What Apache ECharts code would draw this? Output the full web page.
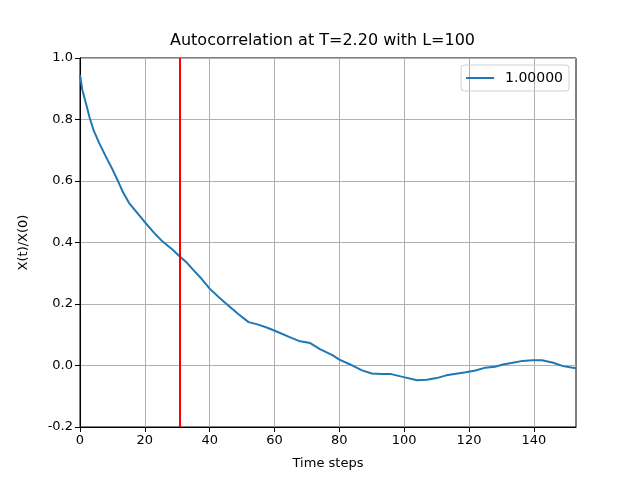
<!DOCTYPE html>
<html>
<head>
    <meta charset="utf-8">
    <title>Autocorrelation</title>
    <script src="https://cdn.jsdelivr.net/npm/echarts@6/dist/echarts.min.js"></script>
    <style>
        html, body { margin: 0; padding: 0; background: #fff; }
        #main { width: 640px; height: 480px; }
    </style>
</head>
<body>
    <div id="main"></div>
    <script>
        // values
        var timeSteps = [0, 0.7, 1.8, 3, 4.3, 5.9, 7.9, 10, 11.5, 13.1, 15.1, 17.2, 19.7, 22.8, 25.5, 28.5, 30.7, 33, 35, 37.5, 40, 43,
            46, 49, 52, 55, 58, 61, 64.5, 67.5, 71, 74, 78, 80, 83, 87, 90, 93, 96, 99.5, 104, 107,
            110, 113, 116, 119, 122, 125, 128, 130.5, 133.5, 136.5, 139.5, 142.5, 146, 149, 153];
        var corrValues = [0.945, 0.897, 0.854, 0.805, 0.762, 0.724, 0.681, 0.638, 0.605, 0.567, 0.529, 0.502, 0.470, 0.432, 0.403, 0.377, 0.355, 0.334, 0.310, 0.282, 0.250, 0.220,
            0.193, 0.166, 0.141, 0.133, 0.122, 0.109, 0.093, 0.080, 0.073, 0.053, 0.033, 0.019, 0.005, -0.016, -0.026, -0.028, -0.028, -0.037, -0.048, -0.046,
            -0.041, -0.032, -0.027, -0.022, -0.016, -0.007, -0.004, 0.003, 0.009, 0.015, 0.017, 0.017, 0.009, -0.002, -0.009];
        var seriesName = '1.00000';
        var redLineX = 30.7;
        var xTicks = [0, 20, 40, 60, 80, 100, 120, 140];

        var points = [];
        for (var i = 0; i < timeSteps.length; i++) {
            points.push([timeSteps[i], corrValues[i]]);
        }

        var font = 'DejaVu Sans';
        var chart = echarts.init(document.getElementById('main'), null, { renderer: 'canvas' });
        var option = {
            animation: false,
            backgroundColor: '#fff',
            textStyle: { fontFamily: font },
            title: {
                text: 'Autocorrelation at T=2.20 with L=100',
                left: 170,
                top: 33,
                padding: 0,
                textStyle: { fontFamily: font, fontSize: 16, fontWeight: 'normal', color: '#000' }
            },
            legend: {
                data: [seriesName],
                right: 71,
                top: 65,
                orient: 'vertical',
                itemWidth: 28,
                itemHeight: 2,
                icon: 'rect',
                borderColor: '#d0d0d0',
                borderWidth: 1,
                borderRadius: 3,
                padding: [6, 6, 6, 5],
                textStyle: { fontFamily: font, fontSize: 14, color: '#000', padding: [0, 0, 0, 6] }
            },
            grid: {
                left: 80,
                right: 64,
                top: 58,
                bottom: 53,
                show: true,
                borderColor: '#000',
                borderWidth: 1
            },
            xAxis: {
                type: 'value',
                min: 0,
                max: 153,
                interval: 20,
                name: 'Time steps',
                nameLocation: 'middle',
                nameGap: 30,
                nameTextStyle: { fontFamily: font, fontSize: 13, color: '#000' },
                axisLine: { onZero: false, lineStyle: { color: '#000', width: 1 } },
                axisTick: { show: true, length: 5, lineStyle: { color: '#000' }, customValues: xTicks },
                axisLabel: {
                    fontFamily: font, fontSize: 13, color: '#000', margin: 7,
                    customValues: xTicks,
                    formatter: function (v) { return String(v); }
                },
                splitLine: { show: true, lineStyle: { color: '#b0b0b0', width: 1 } }
            },
            yAxis: {
                type: 'value',
                min: -0.2,
                max: 1.0,
                interval: 0.2,
                name: 'X(t)/X(0)',
                nameLocation: 'middle',
                nameGap: 50,
                nameRotate: 90,
                nameTextStyle: { fontFamily: font, fontSize: 13, color: '#000' },
                axisLine: { show: true, lineStyle: { color: '#000', width: 1 } },
                axisTick: { show: true, length: 5, lineStyle: { color: '#000' } },
                axisLabel: {
                    fontFamily: font, fontSize: 13, color: '#000', margin: 7,
                    formatter: function (v) {
                        var r = Math.round(v * 10) / 10;
                        return r.toFixed(1);
                    }
                },
                splitLine: { show: true, lineStyle: { color: '#b0b0b0', width: 1 } }
            },
            series: [
                {
                    name: seriesName,
                    type: 'line',
                    data: points,
                    showSymbol: false,
                    symbol: 'none',
                    smooth: false,
                    lineStyle: { color: '#1f77b4', width: 2 },
                    itemStyle: { color: '#1f77b4' },
                    markLine: {
                        silent: true,
                        symbol: ['none', 'none'],
                        label: { show: false },
                        lineStyle: { color: '#ff0000', width: 2, type: 'solid' },
                        data: [{ xAxis: redLineX }]
                    }
                }
            ]
        };
        chart.setOption(option);
    </script>
</body>
</html>
